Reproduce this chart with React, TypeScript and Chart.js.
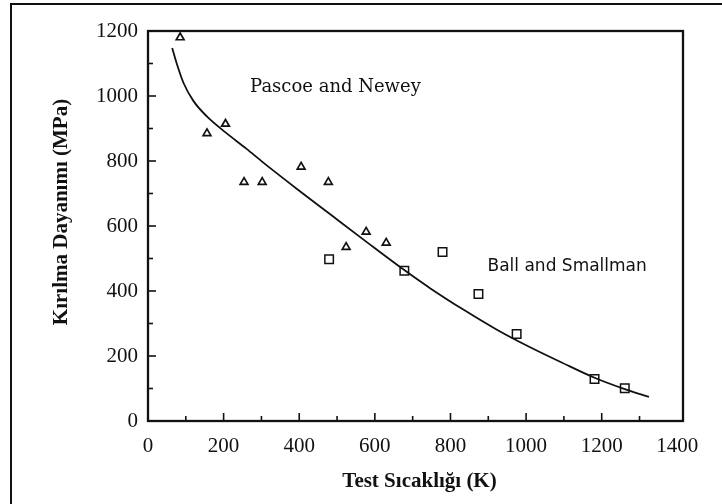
import React, { useEffect, useRef } from "react";
import { Chart, registerables } from "chart.js";

Chart.register(...registerables);

// ---- data ----
const xTickValues = [0, 200, 400, 600, 800, 1000, 1200, 1400];
const yTickValues = [0, 200, 400, 600, 800, 1000, 1200];
const pascoeX = [85, 156, 205, 254, 302, 405, 477, 524, 577, 630];
const pascoeY = [1180, 885, 914, 735, 735, 782, 735, 535, 582, 548];
const ballX = [479, 678, 779, 874, 975, 1181, 1261];
const ballY = [498, 462, 520, 391, 268, 129, 101];
const fitX = [64, 76, 94, 120, 155, 205, 260, 305, 394, 482, 577, 676, 747, 835, 924, 1012, 1094, 1181, 1261, 1325];
const fitY = [1148, 1100, 1040, 985, 938, 888, 838, 795, 714, 636, 552, 466, 408, 342, 280, 226, 180, 133, 98, 74];
const seriesLabels = ["Pascoe and Newey", "Ball and Smallman"];
const labelAnchorX = [270, 898];
const labelAnchorY = [1028, 474];
const xTitle = "Test Sıcaklığı (K)";
const yTitle = "Kırılma Dayanımı (MPa)";
const xMinorStep = 100;
const yMinorStep = 100;

const toPoints = (xs: number[], ys: number[]) => xs.map((x, i) => ({ x, y: ys[i] }));

const INK = "#111";
const SERIF = "'Liberation Serif', 'Times New Roman', serif";

const decorPlugin = {
  id: "decor",
  afterDraw(chart: any) {
    const { ctx, chartArea: a, scales } = chart;
    const xs = scales.x;
    const ys = scales.y;
    ctx.save();
    ctx.strokeStyle = INK;
    ctx.lineWidth = 1.6;
    // inward ticks on x axis
    for (let v = xMinorStep; v < xTickValues[xTickValues.length - 1]; v += xMinorStep) {
      const px = xs.getPixelForValue(v);
      const len = v % 200 === 0 ? 8 : 5;
      ctx.beginPath();
      ctx.moveTo(px, a.bottom);
      ctx.lineTo(px, a.bottom - len);
      ctx.stroke();
    }
    // inward ticks on y axis
    for (let v = yMinorStep; v < yTickValues[yTickValues.length - 1]; v += yMinorStep) {
      const py = ys.getPixelForValue(v);
      const len = v % 200 === 0 ? 8 : 5;
      ctx.beginPath();
      ctx.moveTo(a.left, py);
      ctx.lineTo(a.left + len, py);
      ctx.stroke();
    }
    // plot box
    ctx.lineWidth = 2.3;
    ctx.strokeRect(a.left, a.top, a.right - a.left, a.bottom - a.top);

    // series annotations
    ctx.fillStyle = INK;
    ctx.textBaseline = "middle";
    ctx.textAlign = "left";
    ctx.font = "18px 'DejaVu Serif', serif";
    ctx.fillText(seriesLabels[0], xs.getPixelForValue(labelAnchorX[0]), ys.getPixelForValue(labelAnchorY[0]));
    ctx.font = "17px 'DejaVu Sans', sans-serif";
    ctx.fillText(seriesLabels[1], xs.getPixelForValue(labelAnchorX[1]), ys.getPixelForValue(labelAnchorY[1]));

    // axis titles
    ctx.font = `bold 21px ${SERIF}`;
    ctx.textAlign = "center";
    ctx.fillText(xTitle, (a.left + a.right) / 2 + 4, 482);
    ctx.save();
    ctx.translate(62, (a.top + a.bottom) / 2 - 14);
    ctx.rotate(-Math.PI / 2);
    ctx.fillText(yTitle, 0, 0);
    ctx.restore();
    ctx.restore();
  },
};

export default function App() {
  const ref = useRef<HTMLCanvasElement | null>(null);

  useEffect(() => {
    if (!ref.current) return;
    const chart = new Chart(ref.current, {
      type: "scatter",
      data: {
        datasets: [
          {
            label: "fit",
            data: toPoints(fitX, fitY),
            showLine: true,
            borderColor: INK,
            borderWidth: 1.8,
            pointRadius: 0,
            cubicInterpolationMode: "monotone",
          },
          {
            label: seriesLabels[0],
            data: toPoints(pascoeX, pascoeY),
            pointStyle: "triangle",
            pointRadius: 4.5,
            borderColor: INK,
            borderWidth: 1.7,
            backgroundColor: "rgba(255,255,255,0)",
          },
          {
            label: seriesLabels[1],
            data: toPoints(ballX, ballY),
            pointStyle: "rect",
            pointRadius: 6,
            borderColor: INK,
            borderWidth: 1.5,
            backgroundColor: "rgba(255,255,255,0)",
          },
        ],
      },
      options: {
        animation: false,
        responsive: false,
        maintainAspectRatio: false,
        events: [],
        layout: { padding: { top: 31, right: 39, left: 0, bottom: 0 } },
        plugins: { legend: { display: false }, tooltip: { enabled: false } },
        scales: {
          x: {
            type: "linear",
            min: 0,
            max: 1415,
            afterBuildTicks: (axis: any) => {
              axis.ticks = xTickValues.map((v) => ({ value: v }));
            },
            afterFit: (scale: any) => {
              scale.height = 83;
            },
            grid: { display: false, drawTicks: false },
            border: { display: false },
            ticks: {
              color: INK,
              padding: 13,
              maxRotation: 0,
              autoSkip: false,
              font: { family: SERIF, size: 21 },
              callback: (v: any) => String(v),
            },
          },
          y: {
            type: "linear",
            min: 0,
            max: 1200,
            afterBuildTicks: (axis: any) => {
              axis.ticks = yTickValues.map((v) => ({ value: v }));
            },
            afterFit: (scale: any) => {
              scale.width = 148;
            },
            grid: { display: false, drawTicks: false },
            border: { display: false },
            ticks: {
              color: INK,
              padding: 10,
              autoSkip: false,
              font: { family: SERIF, size: 21 },
              callback: (v: any) => String(v),
            },
          },
        },
      },
      plugins: [decorPlugin],
    });
    return () => chart.destroy();
  }, []);

  return (
    <div style={{ position: "fixed", left: 0, top: 0, width: 722, height: 504, background: "#fff", overflow: "hidden" }}>
      <canvas ref={ref} width={722} height={504} style={{ position: "absolute", left: 0, top: 0, width: 722, height: 504 }} />
      <div
        style={{
          position: "absolute",
          left: 10,
          top: 3,
          width: 730,
          height: 520,
          borderTop: "2px solid #111",
          borderLeft: "2px solid #111",
          pointerEvents: "none",
        }}
      />
    </div>
  );
}
